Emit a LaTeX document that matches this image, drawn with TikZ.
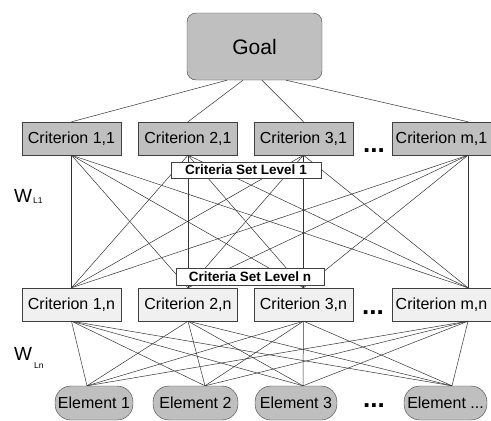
\documentclass[tikz,border=0pt]{standalone}
\usepackage{fontspec}
\setmainfont{Liberation Sans}
\usepackage{xcolor}

\begin{document}
\begin{tikzpicture}[
			     x=1pt, y=-1pt,
			     every node/.style={inner sep=0pt},
			     goal box/.style={draw=black!75, fill=black!25, rounded corners=9pt, minimum width=135pt, minimum height=67pt, font=\fontsize{21}{24}\selectfont},
			     crit top/.style={draw=black!75, fill=black!25, minimum width=99pt, minimum height=33pt, font=\fontsize{16}{18}\selectfont},
			     crit low/.style={crit top, fill=black!6},
			     elem box/.style={draw=black!75, fill=black!25, rounded corners=16pt, minimum height=34pt, font=\fontsize{16}{18}\selectfont},
			     set box/.style={draw=black!75, fill=white, minimum height=16pt, font=\bfseries\fontsize{13.5}{15}\selectfont},
			     more/.style={font=\bfseries\fontsize{26}{26}\selectfont},
			     weight/.style={anchor=base west, font=\fontsize{19}{20}\selectfont},
			     weight sub/.style={anchor=base west, font=\fontsize{8.5}{9}\selectfont},
			     link/.style={black!80, line width=0.5pt}
			     ]
\useasboundingbox (0,0) rectangle (491,421);
% levels
\node[goal box] (goal) at (254.5,46.5) {Goal};
\foreach \i/\x in {1/71.5,2/188,3/303.5,m/441.5}{
  \node[crit top] (top\i) at (\x,138.5) {Criterion \i,1};
  \node[crit low] (low\i) at (\x,304.5) {Criterion \i,n};
}
\foreach \i/\x/\w in {1/94/78,2/195.5/85,3/296/82}
  \node[elem box, minimum width=\w pt] (el\i) at (\x,403) {Element \i};
\node[elem box, minimum width=83pt] (ele) at (445.5,403) {Element ...};
\node[more] (more1) at (374,150.5) {...};
\node[more] (moren) at (373,312.5) {...};
\node[more] (moree) at (374,406) {...};
\node[weight] (w1) at (14,202) {W};
\node[weight sub] (w1s) at (33,203) {L1};
\node[weight] (wn) at (14,360) {W};
\node[weight sub] (wns) at (34,368) {Ln};
% ports
\foreach \i/\d in {1/-27.5,2/-11.5,3/7.5,m/31.5}
  \coordinate (g\i) at ([xshift=\d pt]goal.south);
\foreach \i/\d in {1/0,2/0,3/0,m/26.5}{
  \coordinate (u\i) at ([xshift=\d pt]top\i.north);
  \coordinate (a\i) at ([xshift=\d pt]top\i.south);
  \coordinate (b\i) at ([xshift=\d pt]low\i.north);
  \coordinate (c\i) at ([xshift=\d pt]low\i.south);
}
\foreach \i/\d in {1/-7,2/9.5,3/7,e/6.5}
  \coordinate (e\i) at ([xshift=\d pt]el\i.north);
% links
\foreach \i in {1,2,3,m}
  \draw[link] (g\i) -- (u\i);
\foreach \i in {1,2,3,m}
  \foreach \j in {1,2,3,m}
    \draw[link] (a\i) -- (b\j);
\foreach \i in {1,2,3,m}
  \foreach \j in {1,2,3,e}
    \draw[link] (c\i) -- (e\j);
% criteria sets
\node[set box, minimum width=150pt] (set1) at (246,170) {Criteria Set Level 1};
\node[set box, minimum width=148pt, minimum height=17pt] (setn) at (250,276.5) {Criteria Set Level n};
\end{tikzpicture}
\end{document}
